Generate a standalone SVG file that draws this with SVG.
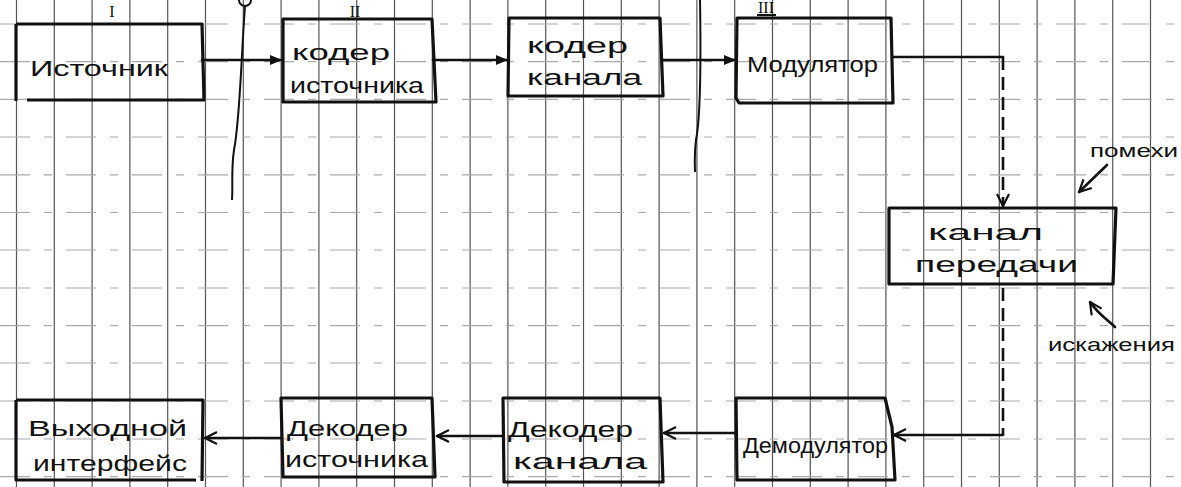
<svg xmlns="http://www.w3.org/2000/svg" width="1181" height="487" viewBox="0 0 1181 487">
<style>
.bg{fill:#fff}
.gv{stroke:#555;stroke-width:1.2}
.gh{stroke:#aaa;stroke-width:1.2;stroke-dasharray:30 14 8 14}
.box{fill:none;stroke:#111;stroke-width:3.2;stroke-linejoin:round}
.t{font-family:"Liberation Sans",Arial,sans-serif;font-size:22px;fill:#111}
.s{font-family:"Liberation Sans",Arial,sans-serif;font-size:19px;fill:#111}
.rn{font-family:"Liberation Serif",serif;font-size:16px;fill:#111}
.ln{fill:none;stroke:#111;stroke-width:2.6;stroke-linecap:round}
.dash{fill:none;stroke:#111;stroke-width:2.6;stroke-dasharray:13 7}
.thin{fill:none;stroke:#111;stroke-width:2}
</style>
<defs>
<marker id="af" viewBox="0 0 12 10" refX="11" refY="5" markerWidth="12" markerHeight="10" markerUnits="userSpaceOnUse" orient="auto">
<path d="M0,0 L12,5 L0,10 Z" fill="#111"/>
</marker>
<marker id="ao" viewBox="0 0 14 14" refX="13" refY="7" markerWidth="14" markerHeight="14" markerUnits="userSpaceOnUse" orient="auto">
<path d="M1,1 L13,7 L1,13" fill="none" stroke="#111" stroke-width="2.2"/>
</marker>
</defs>
<rect class="bg" x="0" y="0" width="1181" height="487"/>
<g id="grid">
<path class="gv" d="M16.5,0V487M54.3,0V487M92.1,0V487M129.9,0V487M167.7,0V487M205.5,0V487M243.3,0V487M281.1,0V487M318.9,0V487M356.7,0V487M394.5,0V487M432.3,0V487M470.1,0V487M507.9,0V487M545.7,0V487M583.5,0V487M621.3,0V487M659.1,0V487M696.9,0V487M734.7,0V487M772.5,0V487M810.3,0V487M848.1,0V487M885.9,0V487M923.7,0V487M961.5,0V487M999.3,0V487M1037.1,0V487M1074.9,0V487M1112.7,0V487M1150.5,0V487"/>
<path class="gh" d="M0,24H1181M0,61.7H1181M0,99.4H1181M0,137H1181M0,174.8H1181M0,212.5H1181M0,250H1181M0,288H1181M0,325.6H1181M0,363H1181M0,401H1181M0,439H1181M0,476.6H1181"/>
</g>
<g id="dividers">
<circle class="thin" cx="245" cy="0" r="6"/>
<path class="thin" d="M245,6 C241,60 240,120 234,150 C231,170 233,185 232,200"/>
<path class="thin" d="M700,0 C701,60 700,120 696,140 C694,155 695,165 695,172"/>
<text class="rn" x="112" y="17" text-anchor="middle">I</text>
<text class="rn" x="355" y="17" text-anchor="middle">II</text>
<text class="rn" x="766" y="13" text-anchor="middle" font-size="12">III</text>
<path class="thin" d="M757,15H776"/>
</g>
<g id="connectors">
<path class="ln" d="M202,60H281" marker-end="url(#af)"/>
<path class="ln" d="M433,60H507" marker-end="url(#af)"/>
<path class="ln" d="M662,60H735" marker-end="url(#af)"/>
<path class="ln" d="M893,57H1003"/>
<path class="dash" d="M1003,57V206" marker-end="url(#ao)"/>
<path class="dash" d="M1003,288V435"/>
<path class="ln" d="M1003,435H894" marker-end="url(#ao)"/>
<path class="ln" d="M735,433H664" marker-end="url(#ao)"/>
<path class="ln" d="M503,436H437" marker-end="url(#ao)"/>
<path class="ln" d="M281,438H205" marker-end="url(#ao)"/>
<path class="ln" d="M1107,165L1079,192" marker-end="url(#ao)"/>
<path class="ln" d="M1115,327C1108,320 1098,314 1090,302" marker-end="url(#ao)"/>
</g>
<g id="n-istochnik">
<path class="box" d="M16,24H202L204,100H27M16,24V101"/>
<text class="t" x="30" y="76" textLength="138" lengthAdjust="spacingAndGlyphs">Источник</text>
</g>
<g id="n-koder-ist">
<path class="box" d="M283,19H432L436,102H283Z"/>
<text class="t" x="292" y="60" textLength="98" lengthAdjust="spacingAndGlyphs">кодер</text>
<text class="t" x="290" y="93" textLength="134" lengthAdjust="spacingAndGlyphs">источника</text>
</g>
<g id="n-koder-kan">
<path class="box" d="M509,18H660L663,96H508Z"/>
<text class="t" x="527" y="53" textLength="101" lengthAdjust="spacingAndGlyphs">кодер</text>
<text class="t" x="527" y="85" textLength="115" lengthAdjust="spacingAndGlyphs">канала</text>
</g>
<g id="n-modulator">
<path class="box" d="M737,18H891L893,103H739L736,98Z"/>
<text class="t" x="747" y="72" textLength="131" lengthAdjust="spacingAndGlyphs">Модулятор</text>
</g>
<g id="n-kanal">
<path class="box" d="M889,208H1116L1113,284H889Z"/>
<text class="t" x="928" y="240" textLength="115" lengthAdjust="spacingAndGlyphs">канал</text>
<text class="t" x="915" y="272" textLength="163" lengthAdjust="spacingAndGlyphs">передачи</text>
</g>
<g id="n-pomehi">
<text class="s" x="1090" y="157" textLength="88" lengthAdjust="spacingAndGlyphs">помехи</text>
</g>
<g id="n-iskazheniya">
<text class="s" x="1048" y="351" textLength="127" lengthAdjust="spacingAndGlyphs">искажения</text>
</g>
<g id="n-demodulator">
<path class="box" d="M736,398H885L892,427L895,480H737Z"/>
<text class="t" x="743" y="453" textLength="145" lengthAdjust="spacingAndGlyphs">Демодулятор</text>
</g>
<g id="n-dekoder-kan">
<path class="box" d="M503,398H660L663,482H504Z"/>
<text class="t" x="508" y="437" textLength="125" lengthAdjust="spacingAndGlyphs">Декодер</text>
<text class="t" x="513" y="469" textLength="134" lengthAdjust="spacingAndGlyphs">канала</text>
</g>
<g id="n-dekoder-ist">
<path class="box" d="M281,398H432L435,477H283Z"/>
<text class="t" x="287" y="436" textLength="121" lengthAdjust="spacingAndGlyphs">Декодер</text>
<text class="t" x="285" y="467" textLength="143" lengthAdjust="spacingAndGlyphs">источника</text>
</g>
<g id="n-vyhod">
<path class="box" d="M16,400H203L202,481M16,400V480H196"/>
<text class="t" x="28" y="436" textLength="159" lengthAdjust="spacingAndGlyphs">Выходной</text>
<text class="t" x="33" y="471" textLength="154" lengthAdjust="spacingAndGlyphs">интерфейс</text>
</g>
</svg>
